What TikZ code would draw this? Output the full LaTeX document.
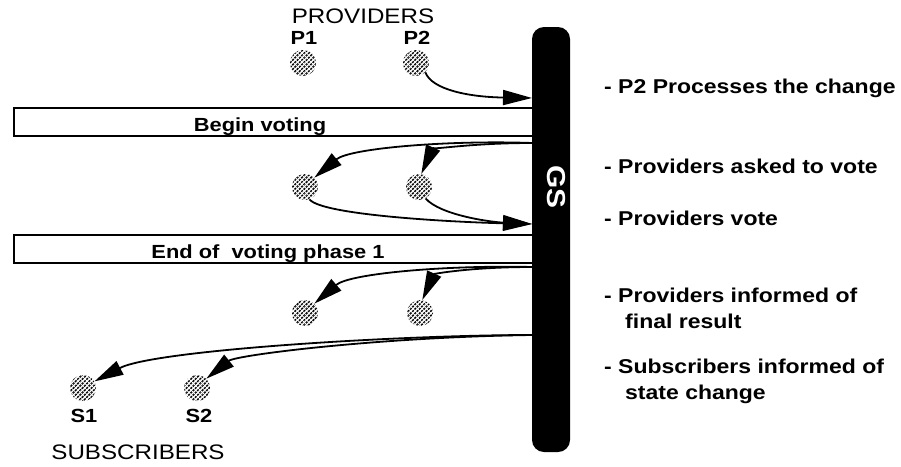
\documentclass[tikz,border=0pt]{standalone}
\usepackage{fontspec}
\setmainfont{Liberation Sans}[FakeStretch=1.15]
\usetikzlibrary{arrows.meta,patterns.meta}
\begin{document}
\begin{tikzpicture}[x=1pt,y=-1pt,
  site/.style={circle, minimum size=26pt, inner sep=0pt,
    pattern={Lines[angle=45,distance=3.2pt,line width=1.6pt]},
    postaction={pattern color=white, pattern={Lines[angle=-45,distance=3.2pt,line width=0.8pt]}}},
  arr/.style={line width=1.8pt, -{Triangle[length=29pt,width=15pt]}},
  phasebox/.style={draw, line width=1.6pt, minimum width=519pt, minimum height=28pt,
    inner sep=0pt, anchor=north west},
  phasetext/.style={font=\bfseries\fontsize{19}{23}\selectfont, anchor=base, inner sep=0pt},
  step label/.style={font=\bfseries\fontsize{20}{24}\selectfont, anchor=base west, inner sep=0pt},
  role/.style={font=\fontsize{21}{25}\selectfont, inner sep=0pt},
  sitename/.style={font=\bfseries\fontsize{19}{22}\selectfont, inner sep=0pt},
]
\useasboundingbox (0,0) rectangle (901,466);

% voting phase bands
\node[phasebox] (begin) at (13,107) {};
\node[phasetext] (begintext) at (260,131) {Begin voting};
\node[phasebox] (endph) at (13,234) {};
\node[phasetext] (endtext) at (268,258) {End of\ \ voting phase 1};

% group service bar
\node[fill=black, rounded corners=12pt, minimum width=38pt, minimum height=425pt,
      inner sep=0pt] (gs) at (551,239.5) {};
\node[rotate=-90, text=white, inner sep=0pt,
      font=\bfseries\fontsize{26}{30}\selectfont] (gstext) at (556,187) {GS};

% attachment points on the bar
\coordinate (g1) at (532,98);
\coordinate (g2) at (532,143);
\coordinate (g3) at (532,224);
\coordinate (g4) at (532,267);
\coordinate (g5) at (532,335);

% providers
\node[role] (prov) at (363,16) {PROVIDERS};
\node[sitename] (p1name) at (304,38) {P1};
\node[sitename] (p2name) at (417,38) {P2};
\node[site] (p1) at (303,63) {};
\node[site] (p2) at (416,63) {};

\node[site] (a1) at (305,187) {};
\node[site] (a2) at (419,187) {};
\node[site] (b1) at (305,313) {};
\node[site] (b2) at (420,313) {};

% subscribers
\node[site] (s1) at (83,388) {};
\node[site] (s2) at (197,388) {};
\node[sitename] (s1name) at (84,416) {S1};
\node[sitename] (s2name) at (199,416) {S2};
\node[role] (subs) at (138,452) {SUBSCRIBERS};

% message flows
\draw[arr] (p2.-45) .. controls (432,90) and (470,97) .. (g1);

\draw[arr] (g2) .. controls (450,140) and (350,148) .. (a1.45);
\draw[arr] (g2) .. controls (470,143) and (432,150) .. (a2.80);

\draw[arr] (a1.-70) .. controls (322,215) and (450,222) .. (g3);
\draw[arr] (a2.-60) .. controls (440,215) and (490,222) .. (g3);

\draw[arr] (g4) .. controls (450,265) and (350,273) .. (b1.45);
\draw[arr] (g4) .. controls (470,267) and (434,274) .. (b2.80);

\draw[arr] (g5) .. controls (400,335) and (154,350) .. (s1.30);
\draw[arr] (g5) .. controls (380,337) and (236,355) .. (s2.45);

% step descriptions
\node[step label] (t1) at (604,93) {- P2 Processes the change};
\node[step label] (t2) at (604,173) {- Providers asked to vote};
\node[step label] (t3) at (604,225) {- Providers vote};
\node[step label] (t4) at (604,302) {- Providers informed of};
\node[step label] (t4b) at (625,328) {final result};
\node[step label] (t5) at (604,373) {- Subscribers informed of};
\node[step label] (t5b) at (625,399) {state change};
\end{tikzpicture}
\end{document}
